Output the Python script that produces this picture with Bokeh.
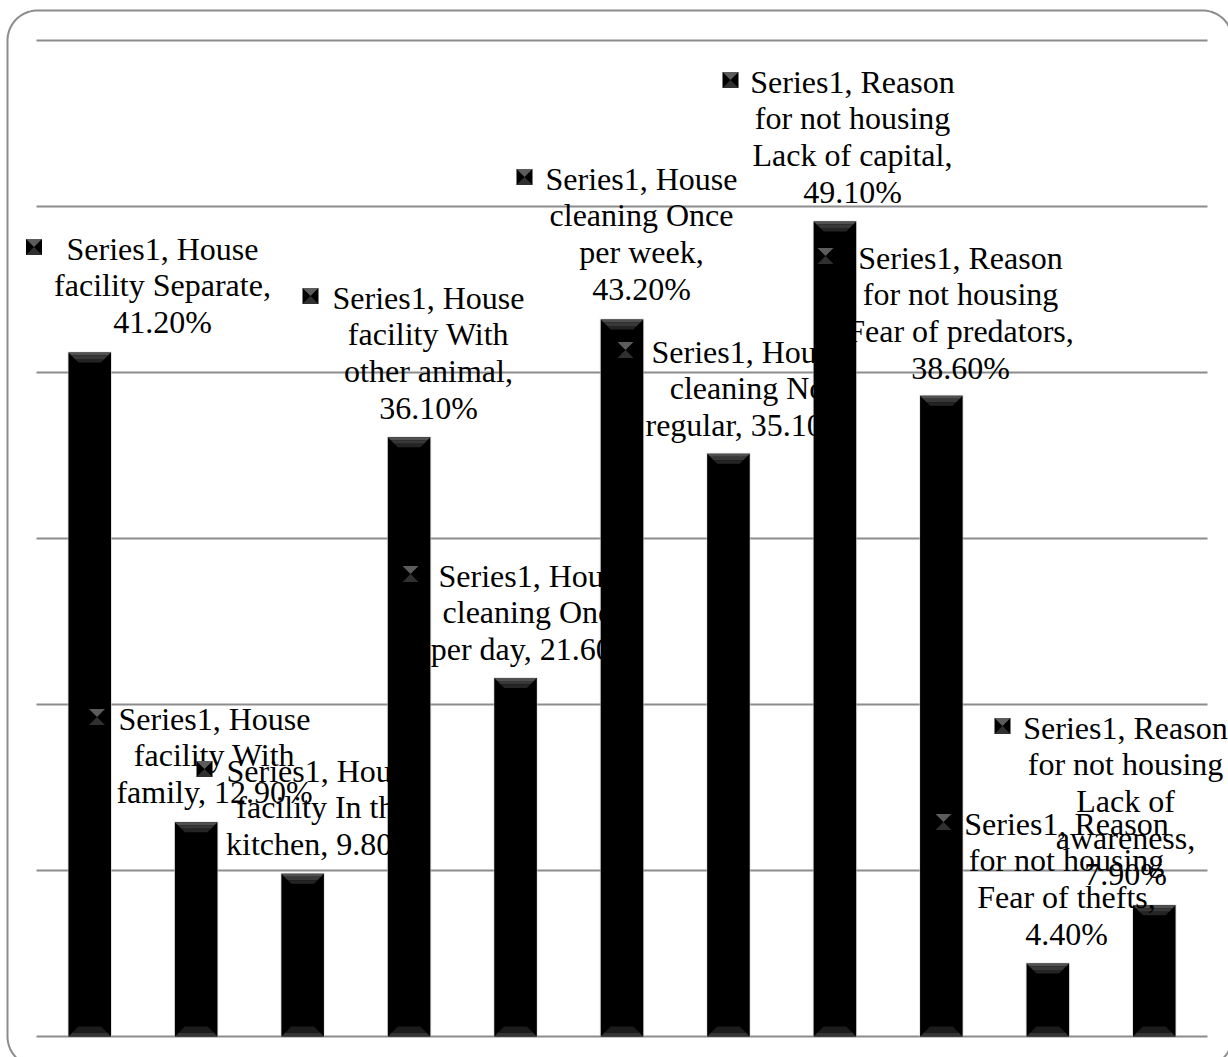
import numpy as np
from bokeh.plotting import figure
from bokeh.models import Range1d, ColumnDataSource
from bokeh.core.properties import value
from bokeh.embed import file_html
from bokeh.resources import INLINE

# ---------------------------------------------------------------- data
series_name = "Series1"
categories = [
    "House facility Separate",
    "House facility With family",
    "House facility In the kitchen",
    "House facility With other animal",
    "House cleaning Once per day",
    "House cleaning Once per week",
    "House cleaning No regular",
    "Reason for not housing Lack of capital",
    "Reason for not housing Fear of predators",
    "Reason for not housing Fear of thefts",
    "Reason for not housing Lack of awareness",
]
values = [41.2, 12.9, 9.8, 36.1, 21.6, 43.2, 35.1, 49.1, 38.6, 4.4, 7.9]
y_ticks = [0, 10, 20, 30, 40, 50, 60]

# ---------------------------------------------------------------- layout
W, H = 1228, 1057
PLOT_L, PLOT_R = 36, 1207        # horizontal extent of the plot area (px)
ZERO_PX, TOP_PX = 1036, 40       # pixel rows of 0 % and the top gridline
n = len(categories)
step = (PLOT_R - PLOT_L) / n
ppu = (ZERO_PX - TOP_PX) / (y_ticks[-1] - y_ticks[0])


def dx(px):
    return -0.5 + (px - PLOT_L) / step


def dy(py):
    return (ZERO_PX - py) / ppu


# words per line for each wrapped data label
label_wrap = [
    [2, 2, 1], [2, 2, 2], [2, 3, 2], [2, 2, 2, 1], [2, 2, 3], [2, 2, 2, 1],
    [2, 2, 2], [2, 3, 3, 1], [2, 3, 3, 1], [2, 3, 3, 1], [2, 3, 2, 1, 1],
]
# label placement: text centre x, first-line row y, legend-key centre x (px)
label_cx = [162, 214, 322, 428, 534, 641, 747, 852, 960, 1066, 1125]
label_row = [258, 728, 780, 307, 585, 188, 361, 91, 267, 833, 737]
key_cx = [33.5, 96.5, 204, 310, 410, 524, 625, 730, 825, 943, 1002]
LINE_GAP = 36.7
TEXT_DROP = -10
KEY_DROP = -11.5
KEY = 16
FONT = "Liberation Serif"

p = figure(
    width=W, height=H,
    x_range=Range1d(dx(0), dx(W)), y_range=Range1d(dy(H), dy(0)),
    output_backend="svg", toolbar_location=None,
    x_axis_location=None, y_axis_location=None,
    min_border=0, outline_line_color=None,
    background_fill_color="white", border_fill_color="white",
)
p.grid.visible = False

# rounded chart-area border
def rounded_rect(l, t, r, b, rad, k=24):
    pts = []
    corners = [(r - rad, t + rad, -90, 0), (r - rad, b - rad, 0, 90),
               (l + rad, b - rad, 90, 180), (l + rad, t + rad, 180, 270)]
    for cx, cy, a0, a1 in corners:
        for a in np.linspace(np.radians(a0), np.radians(a1), k):
            pts.append((cx + rad * np.cos(a), cy + rad * np.sin(a)))
    pts.append(pts[0])
    xs = [dx(px) for px, _ in pts]
    ys = [dy(py) for _, py in pts]
    return xs, ys


bx, by = rounded_rect(7, 10, 1232, 1066, 30)
p.line(bx, by, line_color="#8c8c8c", line_width=2)

# horizontal gridlines
p.segment(x0=[-0.5] * len(y_ticks), x1=[n - 0.5] * len(y_ticks),
          y0=y_ticks, y1=y_ticks, line_color="#8c8c8c", line_width=2)

# bars
xs = np.arange(n)
vals = np.array(values)
bw = 0.4
p.vbar(x=xs, width=bw + 2 / step, top=vals + 1 / ppu, bottom=0,
       fill_color="#cfcfcf", fill_alpha=0.5, line_color=None)
p.vbar(x=xs, width=bw, top=vals, bottom=0, fill_color="black",
       line_color=None)

# bevel shading on bar tops and bottoms
bev_x = 10 / step
bev_y = 10 / ppu


def bevel_slices(edge_vals, direction, bands):
    out = []
    for t0, t1, col in bands:
        pxs, pys = [], []
        for xc, e in zip(xs, edge_vals):
            xl, xr = xc - bw / 2, xc + bw / 2
            pxs.append([xl + bev_x * t0, xr - bev_x * t0,
                        xr - bev_x * t1, xl + bev_x * t1])
            pys.append([e + direction * bev_y * t0, e + direction * bev_y * t0,
                        e + direction * bev_y * t1, e + direction * bev_y * t1])
        out.append((pxs, pys, col))
    return out


top_bands = [(0.0, 0.3, "#505050"), (0.3, 0.65, "#383838"), (0.65, 1.0, "#242424")]
bot_bands = [(0.0, 0.4, "#343434"), (0.4, 1.0, "#1c1c1c")]
for pxs, pys, col in bevel_slices(vals, -1, top_bands) + \
        bevel_slices(np.zeros(n), 1, bot_bands):
    p.patches(pxs, pys, fill_color=col, line_color=None)

# data label texts
tx, ty, tt = [], [], []
for i, (cat, v) in enumerate(zip(categories, values)):
    words = f"{series_name}, {cat}, {v:.2f}%".split(" ")
    pos = 0
    for k, cnt in enumerate(label_wrap[i]):
        tt.append(" ".join(words[pos:pos + cnt]))
        pos += cnt
        tx.append(dx(label_cx[i]))
        ty.append(dy(label_row[i] + TEXT_DROP + k * LINE_GAP))

p.text(x="x", y="y", text="t", source=ColumnDataSource(dict(x=tx, y=ty, t=tt)),
       text_font=value(FONT), text_font_size="32px", text_color="black",
       text_align="center", text_baseline="alphabetic")

# legend keys beside each label
h = KEY / 2
kx = np.array(key_cx)
ky = np.array(label_row) + KEY_DROP
p.rect(x=[dx(v) for v in kx], y=[dy(v) for v in ky], width=KEY / step,
       height=KEY / ppu, fill_color="black", line_color=None)
p.patches([[dx(a - h), dx(a + h), dx(a)] for a in kx],
          [[dy(b - h), dy(b - h), dy(b)] for b in ky],
          fill_color="#5c5c5c", line_color=None)
p.patches([[dx(a - h), dx(a + h), dx(a)] for a in kx],
          [[dy(b + h), dy(b + h), dy(b)] for b in ky],
          fill_color="#303030", line_color=None)

open("out.html", "w").write(file_html(p, INLINE, title="Housing facilities"))
